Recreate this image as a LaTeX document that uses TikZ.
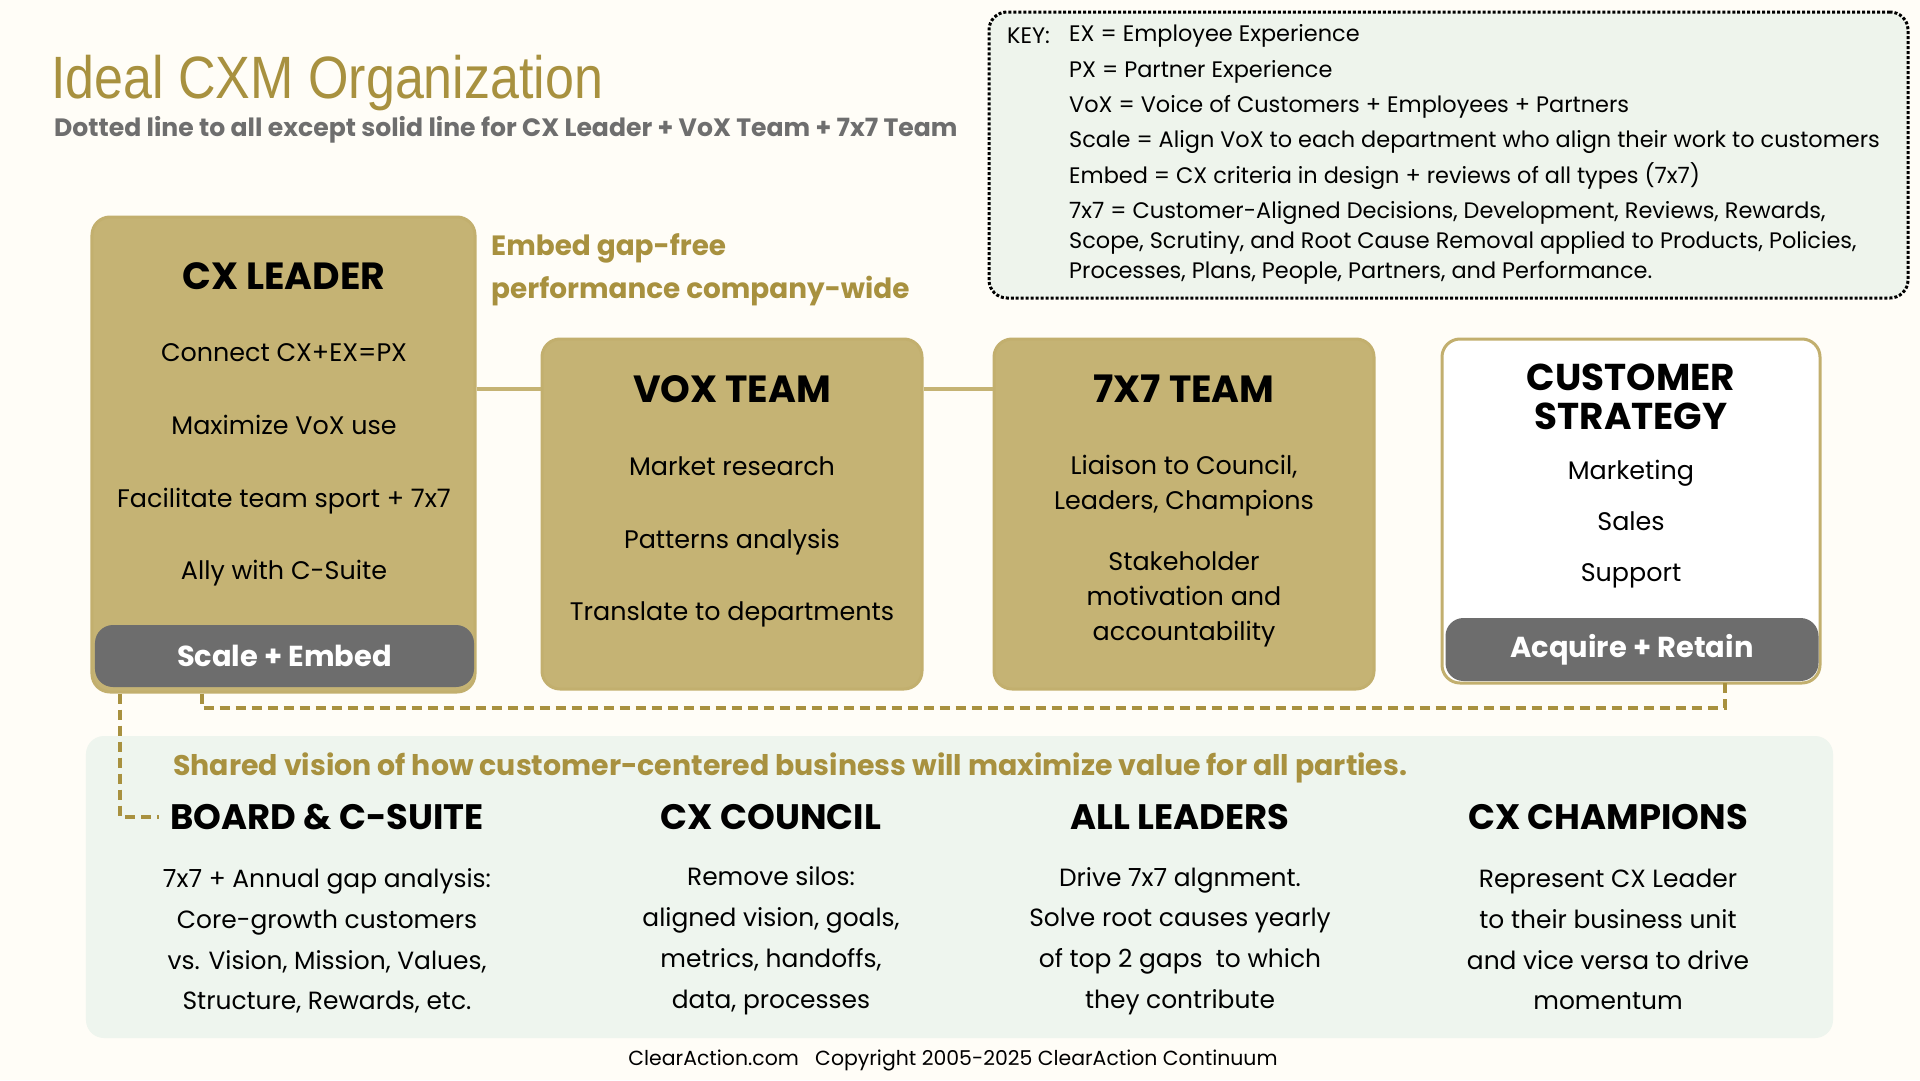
\documentclass[tikz,border=0pt]{standalone}
\usepackage{fontspec}
\setmainfont{Poppins}
\newfontfamily\titlefont[FakeStretch=0.87]{Liberation Sans}
\usepackage{xcolor}
\usetikzlibrary{positioning}
\definecolor{pagebg}{HTML}{FFFDF7}
\definecolor{goldfill}{HTML}{C5B374}
\definecolor{goldline}{HTML}{C2AF6E}
\definecolor{goldink}{HTML}{A8913F}
\definecolor{barfill}{HTML}{6D6D6D}
\definecolor{subink}{HTML}{6E6E6E}
\definecolor{panelbg}{HTML}{EEF5EE}
\definecolor{keybg}{HTML}{EEF4EC}

\begin{document}
\begin{tikzpicture}[x=1bp, y=-1bp,
  teambox/.style={fill=goldfill, draw=goldline, line width=3bp, rounded corners=18bp},
  bar/.style={fill=barfill, rounded corners=18bp, text=white, font=\fontsize{29}{34}\selectfont\bfseries},
  boxhead/.style={font=\fontsize{38}{40}\selectfont\bfseries, align=center},
  item/.style={font=\fontsize{25.5}{30}\selectfont, align=center},
  colhead/.style={font=\fontsize{35.5}{40}\selectfont\bfseries},
  coltext/.style={font=\fontsize{25}{41}\selectfont, align=center},
  goldnote/.style={text=goldink, font=\fontsize{28}{44}\selectfont\bfseries, align=left},
  solidlink/.style={draw=goldfill, line width=4bp},
  dotlink/.style={draw=goldink, line width=4bp, dash pattern=on 10bp off 6bp}
]
  \useasboundingbox[fill=pagebg] (0,0) rectangle (1920,1080);

  % heading
  \node[anchor=base west, inner sep=0, text=goldink, font=\titlefont\fontsize{60}{70}\selectfont] (title) at (51,98) {Ideal CXM Organization};
  \node[anchor=west, inner sep=0, text=subink, font=\fontsize{25.2}{29}\selectfont\bfseries] (subtitle) at (54,130) {Dotted line to all except solid line for CX Leader + VoX Team + 7x7 Team};

  % key
  \node[fill=keybg, draw=black, line width=3bp, dotted, rounded corners=18bp, minimum width=919bp, minimum height=286bp] (key) at (1448.5,155) {};
  \node[anchor=west, inner sep=0, font=\fontsize{22.5}{30}\selectfont] (keylabel) at (1007,35.5) {KEY:};
  \node[anchor=north west, inner sep=0, align=left, font=\fontsize{22.5}{30}\selectfont] (keytext) at (1069,24.5) {EX = Employee Experience\\[5.5bp]
    PX = Partner Experience\\[5.5bp]
    VoX = Voice of Customers + Employees + Partners\\[5.5bp]
    Scale = Align VoX to each department who align their work to customers\\[5.5bp]
    Embed = CX criteria in design + reviews of all types (7x7)\\[5.5bp]
    7x7 = Customer-Aligned Decisions, Development, Reviews, Rewards,\\
    Scope, Scrutiny, and Root Cause Removal applied to Products, Policies,\\
    Processes, Plans, People, Partners, and Performance.};

  % top row
  \node[teambox, minimum width=383bp, minimum height=475bp] (leader) at (283.5,454.5) {};
  \node[teambox, minimum width=380bp, minimum height=350bp] (vox) at (732,514) {};
  \node[teambox, minimum width=380bp, minimum height=350bp] (team7) at (1184,514) {};
  \node[teambox, fill=white, minimum width=378bp, minimum height=344bp] (strategy) at (1631,511) {};
  \node[bar, minimum width=379bp, minimum height=62bp] (scalebar) at (284.5,656) {Scale + Embed};
  \node[bar, minimum width=373bp, minimum height=63bp] (acquire) at (1632,649.5) {Acquire + Retain};

  \node[boxhead] (leaderhead) at (284,276) {CX LEADER};
  \node[item, font=\fontsize{25.5}{73}\selectfont] (leaderitems) at (284,465) {Connect CX+EX=PX\\Maximize VoX use\\Facilitate team sport + 7x7\\Ally with C-Suite};
  \node[boxhead] (voxhead) at (732,389) {VOX TEAM};
  \node[item, font=\fontsize{25.5}{73}\selectfont] (voxitems) at (732,542) {Market research\\Patterns analysis\\Translate to departments};
  \node[boxhead] (team7head) at (1184,389) {7X7 TEAM};
  \node[item, font=\fontsize{25.5}{35}\selectfont] (team7items) at (1184,551) {Liaison to Council,\\Leaders, Champions\\[26bp]Stakeholder\\motivation and\\accountability};
  \node[boxhead, font=\fontsize{37.5}{39}\selectfont\bfseries] (strategyhead) at (1631,397) {CUSTOMER\\STRATEGY};
  \node[item, font=\fontsize{25.5}{51}\selectfont] (strategyitems) at (1631,524) {Marketing\\Sales\\Support};

  \node[goldnote, anchor=north west, inner sep=0] (embednote) at (491,233) {Embed gap-free\\performance company-wide};

  \draw[solidlink] (voxhead -| leader.east) -- (voxhead -| vox.west);
  \draw[solidlink] (voxhead -| vox.east) -- (voxhead -| team7.west);

  % bottom panel
  \node[fill=panelbg, rounded corners=18bp, minimum width=1747bp, minimum height=302bp] (panel) at (959.5,887) {};
  \node[anchor=west, inner sep=0, text=goldink, font=\fontsize{28.5}{32}\selectfont\bfseries] (vision) at (173,768) {Shared vision of how customer-centered business will maximize value for all parties.};

  \node[colhead] (board) at (327,817) {BOARD \& C-SUITE};
  \node[colhead] (council) at (771,817) {CX COUNCIL};
  \node[colhead] (leaders) at (1180,817) {ALL LEADERS};
  \node[colhead] (champions) at (1608,817) {CX CHAMPIONS};
  \node[coltext] (boardtext) at (327,941) {7x7 + Annual gap analysis:\\Core-growth customers\\vs. Vision, Mission, Values,\\Structure, Rewards, etc.};
  \node[coltext] (counciltext) at (771,941) {Remove silos:\\aligned vision, goals,\\metrics, handoffs,\\data, processes};
  \node[coltext] (leaderstext) at (1180,941) {Drive 7x7 algnment.\\Solve root causes yearly\\of top 2 gaps\ \ to which\\they contribute};
  \node[coltext] (championstext) at (1608,939.5) {Represent CX Leader\\to their business unit\\and vice versa to drive\\momentum};

  % dotted lines
  \coordinate (dropL) at ([xshift=30bp]leader.south west);
  \coordinate (dropR) at ([xshift=111bp]leader.south west);
  \coordinate (acqfoot) at ([xshift=93bp]acquire.south);
  \draw[dotlink, shorten >=8bp] (dropL) |- (board.west);
  \draw[dotlink] (dropR) -- ++(0,14) -| (acqfoot);

  \node[font=\fontsize{20.5}{24}\selectfont] (footer) at (953,1060) {ClearAction.com\ \ \ Copyright 2005-2025 ClearAction Continuum};
\end{tikzpicture}
\end{document}
